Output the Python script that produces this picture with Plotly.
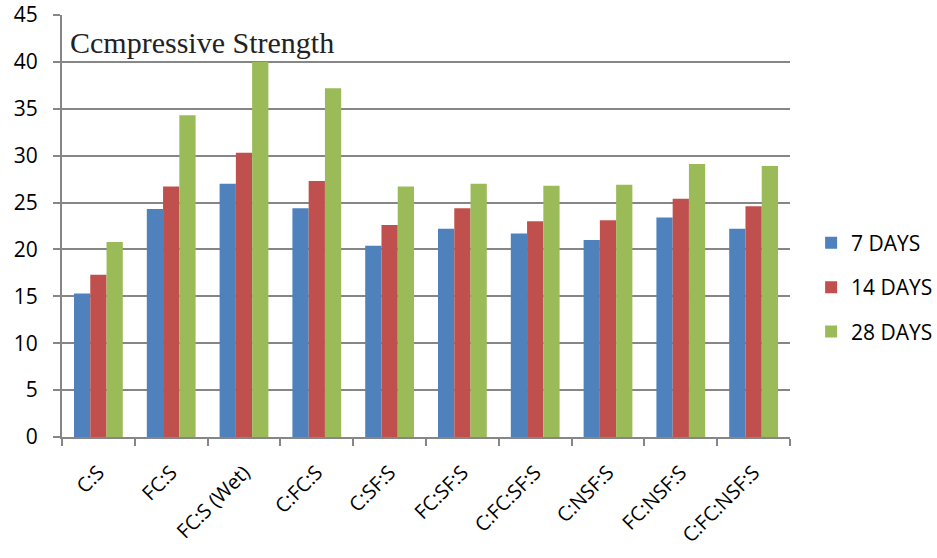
import plotly.graph_objects as go

# Mix designs and compressive strength (MPa) at each curing age
mixes = ["C:S", "FC:S", "FC:S (Wet)", "C:FC:S", "C:SF:S", "FC:SF:S",
         "C:FC:SF:S", "C:NSF:S", "FC:NSF:S", "C:FC:NSF:S"]
days_7 = [15.3, 24.3, 27.0, 24.4, 20.4, 22.2, 21.7, 21.0, 23.4, 22.2]
days_14 = [17.3, 26.7, 30.3, 27.3, 22.6, 24.4, 23.0, 23.1, 25.4, 24.6]
days_28 = [20.8, 34.3, 40.0, 37.2, 26.7, 27.0, 26.8, 26.9, 29.1, 28.9]
series_names = ["7 DAYS", "14 DAYS", "28 DAYS"]
series_colors = ["#4F81BD", "#C0504D", "#9BBB59"]
y_ticks = list(range(0, 50, 5))

fig = go.Figure()
for i, (name, vals, col) in enumerate(zip(series_names, [days_7, days_14, days_28], series_colors)):
    fig.add_trace(go.Bar(
        x=mixes, y=vals, name=name, legendgroup=f"g{i}",
        marker=dict(color=col, line=dict(width=0)),
    ))

axis_gray = "#868686"
fig.update_layout(
    width=937, height=558,
    margin=dict(l=62, r=147, t=15, b=121, autoexpand=False),
    paper_bgcolor="white", plot_bgcolor="white",
    barmode="group", bargap=0.33, bargroupgap=0,
    font=dict(family="Open Sans", size=20, color="black"),
    showlegend=True,
    legend=dict(
        x=1.029, xanchor="left", y=0.355, yanchor="middle",
        font=dict(family="Open Sans", size=21, color="black"),
        tracegroupgap=14, itemsizing="constant",
        bgcolor="rgba(0,0,0,0)",
    ),
    xaxis=dict(
        type="category", tickangle=-45, automargin=False,
        showline=True, linecolor=axis_gray, linewidth=2,
        ticks="outside", tickson="boundaries", ticklen=7, tickcolor=axis_gray, tickwidth=2,
        showgrid=False, mirror=False, ticklabelstandoff=14,
        tickfont=dict(family="Open Sans", size=20, color="black"),
    ),
    yaxis=dict(
        range=[0, 45], tickvals=y_ticks, automargin=False,
        showline=True, linecolor=axis_gray, linewidth=2,
        ticks="outside", ticklen=7, tickcolor=axis_gray, tickwidth=2,
        showgrid=True, gridcolor=axis_gray, gridwidth=1.5,
        zeroline=False, ticklabelstandoff=11,
        tickfont=dict(family="Open Sans", size=21, color="black"),
    ),
    annotations=[dict(
        text="Ccmpressive Strength", xref="paper", yref="paper",
        x=0.008, y=0.935, xanchor="left", yanchor="middle", showarrow=False,
        font=dict(family="Liberation Serif", size=30, color="#222222"),
    )],
)

fig.write_html("out.html")
